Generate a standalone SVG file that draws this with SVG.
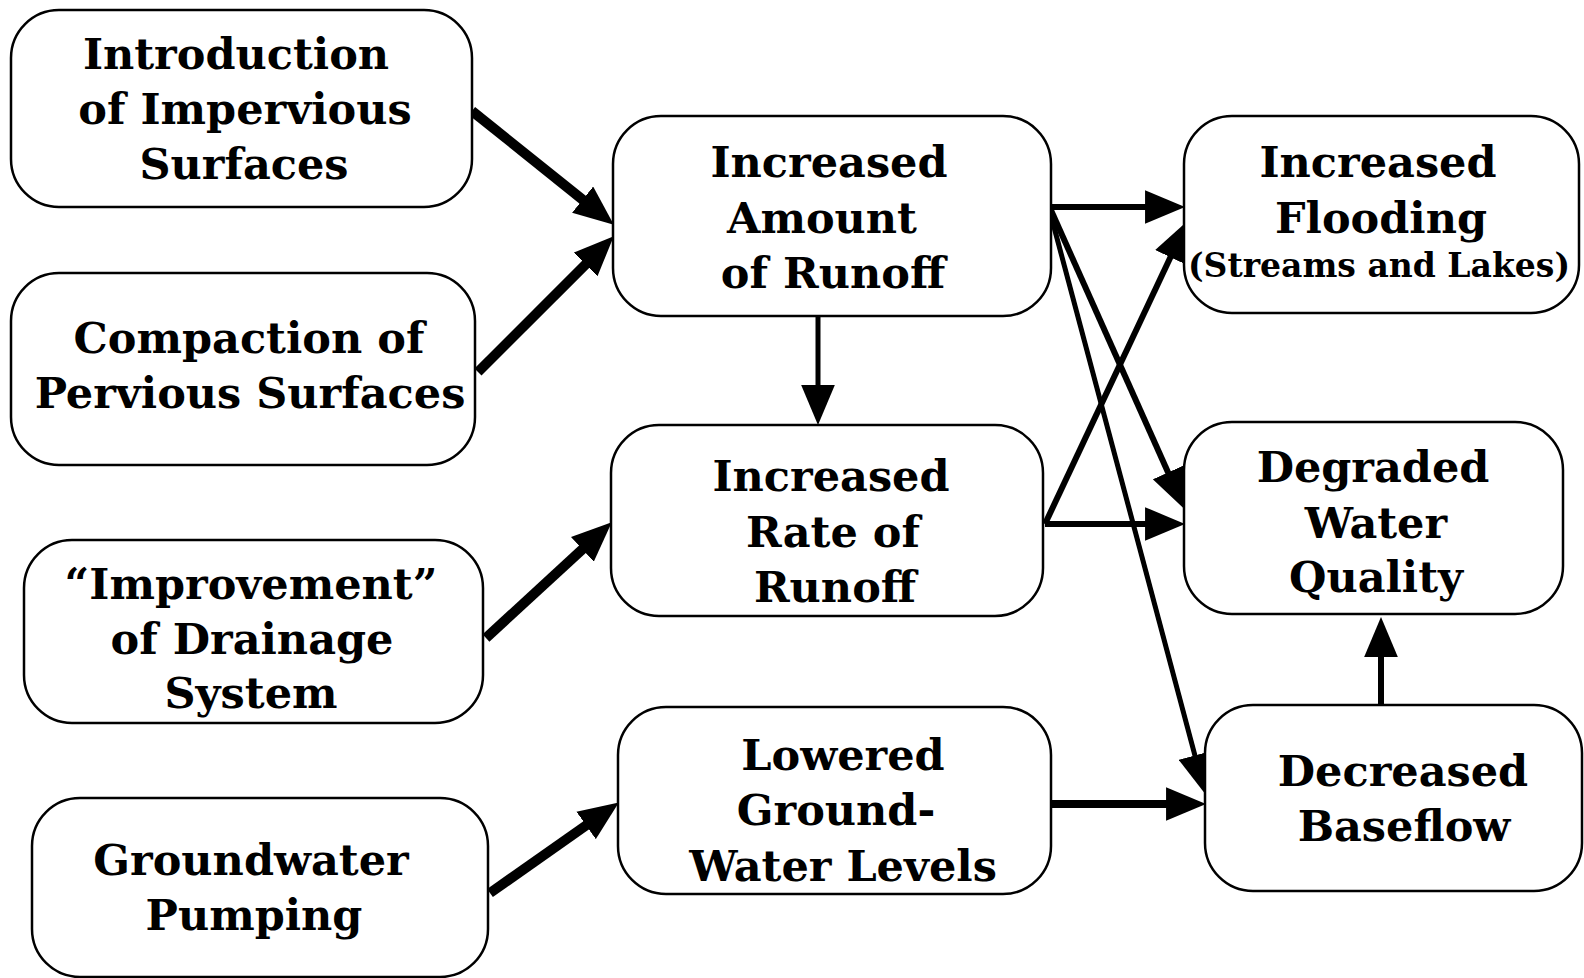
<svg xmlns="http://www.w3.org/2000/svg" width="1584" height="978" viewBox="0 0 1584 978">
<style>
.box{fill:#fff;stroke:#000;stroke-width:2.5}
.t{font-family:"DejaVu Serif","Liberation Serif",serif;font-weight:bold;font-size:43px;text-anchor:middle;fill:#000}
.s{font-size:33px}
.a{stroke:#000;fill:none;marker-end:url(#ah)}
.w9{stroke-width:10}
.w6{stroke-width:6}
</style>
<defs>
<marker id="ah" markerUnits="userSpaceOnUse" markerWidth="40" markerHeight="34" viewBox="0 0 38 32" refX="18" refY="16" orient="auto">
<path d="M0,0 L38,16 L0,32 z" fill="#000"/>
</marker>
</defs>
<g id="connectors">
<line class="a w9" x1="472" y1="111" x2="597.4" y2="211.5"/>
<line class="a w9" x1="478" y1="372" x2="598.9" y2="251.1"/>
<line class="a w9" x1="486" y1="638" x2="596.3" y2="536.5"/>
<line class="a w9" x1="490" y1="893" x2="601.6" y2="814.5"/>
<line class="a" stroke-width="5" x1="818" y1="316" x2="818" y2="404"/>
<line class="a w6" x1="1050" y1="207" x2="1164" y2="207"/>
<line class="a w6" x1="1050" y1="208" x2="1175.8" y2="489.7"/>
<line class="a" stroke-width="5" x1="1050" y1="212" x2="1199.8" y2="773.7"/>
<line class="a w6" x1="1045" y1="524" x2="1178.5" y2="240.1"/>
<line class="a w6" x1="1045" y1="524" x2="1164" y2="524"/>
<line class="a" stroke-width="8" x1="1051" y1="804" x2="1185" y2="804"/>
<line class="a w6" x1="1381" y1="705" x2="1381" y2="638"/>
</g>
<g id="n1">
<rect class="box" x="11" y="10" width="461" height="197" rx="48"/>
<text class="t" x="236" y="69">Introduction</text>
<text class="t" x="245" y="124">of Impervious</text>
<text class="t" x="244" y="179">Surfaces</text>
</g>
<g id="n2">
<rect class="box" x="11" y="273" width="464" height="192" rx="48"/>
<text class="t" x="249" y="353">Compaction of</text>
<text class="t" x="250" y="408">Pervious Surfaces</text>
</g>
<g id="n3">
<rect class="box" x="24" y="540" width="459" height="183" rx="48"/>
<text class="t" x="251" y="599">“Improvement”</text>
<text class="t" x="252" y="654">of Drainage</text>
<text class="t" x="251" y="708">System</text>
</g>
<g id="n4">
<rect class="box" x="32" y="798" width="456" height="179" rx="48"/>
<text class="t" x="251" y="875">Groundwater</text>
<text class="t" x="254" y="930">Pumping</text>
</g>
<g id="n5">
<rect class="box" x="613" y="116" width="438" height="200" rx="48"/>
<text class="t" x="829" y="177">Increased</text>
<text class="t" x="822" y="233">Amount</text>
<text class="t" x="833" y="288">of Runoff</text>
</g>
<g id="n6">
<rect class="box" x="611" y="425" width="432" height="191" rx="48"/>
<text class="t" x="831" y="491">Increased</text>
<text class="t" x="833" y="547">Rate of</text>
<text class="t" x="835" y="602">Runoff</text>
</g>
<g id="n7">
<rect class="box" x="618" y="707" width="433" height="187" rx="48"/>
<text class="t" x="843" y="770">Lowered</text>
<text class="t" x="836" y="825">Ground-</text>
<text class="t" x="843" y="881">Water Levels</text>
</g>
<g id="n8">
<rect class="box" x="1184" y="116" width="395" height="197" rx="48"/>
<text class="t" x="1378" y="177">Increased</text>
<text class="t" x="1381" y="233">Flooding</text>
<text class="t s" x="1379" y="277">(Streams and Lakes)</text>
</g>
<g id="n9">
<rect class="box" x="1184" y="422" width="379" height="192" rx="48"/>
<text class="t" x="1373" y="482">Degraded</text>
<text class="t" x="1376" y="538">Water</text>
<text class="t" x="1376" y="592">Quality</text>
</g>
<g id="n10">
<rect class="box" x="1205" y="705" width="377" height="186" rx="48"/>
<text class="t" x="1403" y="786">Decreased</text>
<text class="t" x="1404" y="841">Baseflow</text>
</g>
</svg>
